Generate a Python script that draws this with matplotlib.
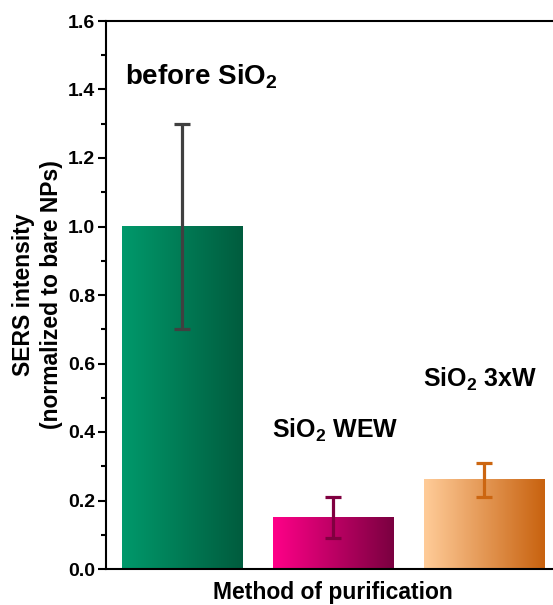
import numpy as np
import matplotlib
matplotlib.use("Agg")
import matplotlib.pyplot as plt
from matplotlib.colors import LinearSegmentedColormap

plt.rcParams['font.family'] = ['Liberation Sans', 'DejaVu Sans']
plt.rcParams['font.weight'] = 'bold'
plt.rcParams['mathtext.fontset'] = 'custom'
plt.rcParams['mathtext.rm'] = 'Liberation Sans:bold'
plt.rcParams['mathtext.bf'] = 'Liberation Sans:bold'
plt.rcParams['mathtext.it'] = 'Liberation Sans:bold'

categories = ["before SiO$_2$", "SiO$_2$ WEW", "SiO$_2$ 3xW"]
values = [1.0, 0.15, 0.26]
errors = [0.30, 0.06, 0.05]
grad_left = ["#00996B", "#FF0088", "#FFCC99"]
grad_right = ["#005C3E", "#7A0040", "#C8620F"]
err_colors = ["#404040", "#800040", "#CC6611"]
label_pos = [(0.626, 1.416), (1.597, 0.382), (2.595, 0.531)]
label_sizes = [20, 18, 18]

fig = plt.figure(figsize=(5.53, 6.05), dpi=100)
ax = fig.add_axes([106/553, 36/605, 454/553, 548/605])

x = np.arange(1, len(values) + 1)
width = 0.795
bars = ax.bar(x, values, width=width, color='none', edgecolor='none', zorder=1)

grad = np.linspace(0, 1, 256).reshape(1, -1)
for b, cl, cr in zip(bars, grad_left, grad_right):
    cmap = LinearSegmentedColormap.from_list('g', [cl, cr])
    x0, y0 = b.get_x(), b.get_y()
    w, h = b.get_width(), b.get_height()
    ax.imshow(grad, cmap=cmap, aspect='auto', extent=[x0, x0 + w, y0, y0 + h],
              zorder=1, interpolation='bilinear')

for xi, v, e, c in zip(x, values, errors, err_colors):
    ax.errorbar(xi, v, yerr=e, fmt='none', ecolor=c, elinewidth=2.3,
                capsize=6, capthick=2.3, zorder=3)

for (tx, ty), lab, fs in zip(label_pos, categories, label_sizes):
    ax.text(tx, ty, lab, fontsize=fs, fontweight='bold', ha='left', va='baseline')

ax.set_xlim(0.5, 3.5)
ax.set_ylim(0, 1.6)
ax.set_yticks(np.arange(0, 1.61, 0.2))
ax.set_yticks(np.arange(0.1, 1.6, 0.2), minor=True)
ax.set_yticklabels([f"{t:.1f}" for t in np.arange(0, 1.61, 0.2)])
ax.set_xticks([])
ax.tick_params(axis='y', which='major', length=6, width=1.5, labelsize=14, pad=2)
ax.tick_params(axis='y', which='minor', length=3.5, width=1.5)
for lab in ax.get_yticklabels():
    lab.set_fontweight('bold')
for s in ax.spines.values():
    s.set_linewidth(1.5)

ax.set_ylabel("SERS intensity\n(normalized to bare NPs)", fontsize=16.5,
              fontweight='bold', labelpad=3, linespacing=1.3)
ax.set_xlabel("Method of purification", fontsize=16.5, fontweight='bold', labelpad=9)

fig.savefig("out.png", dpi=100)
